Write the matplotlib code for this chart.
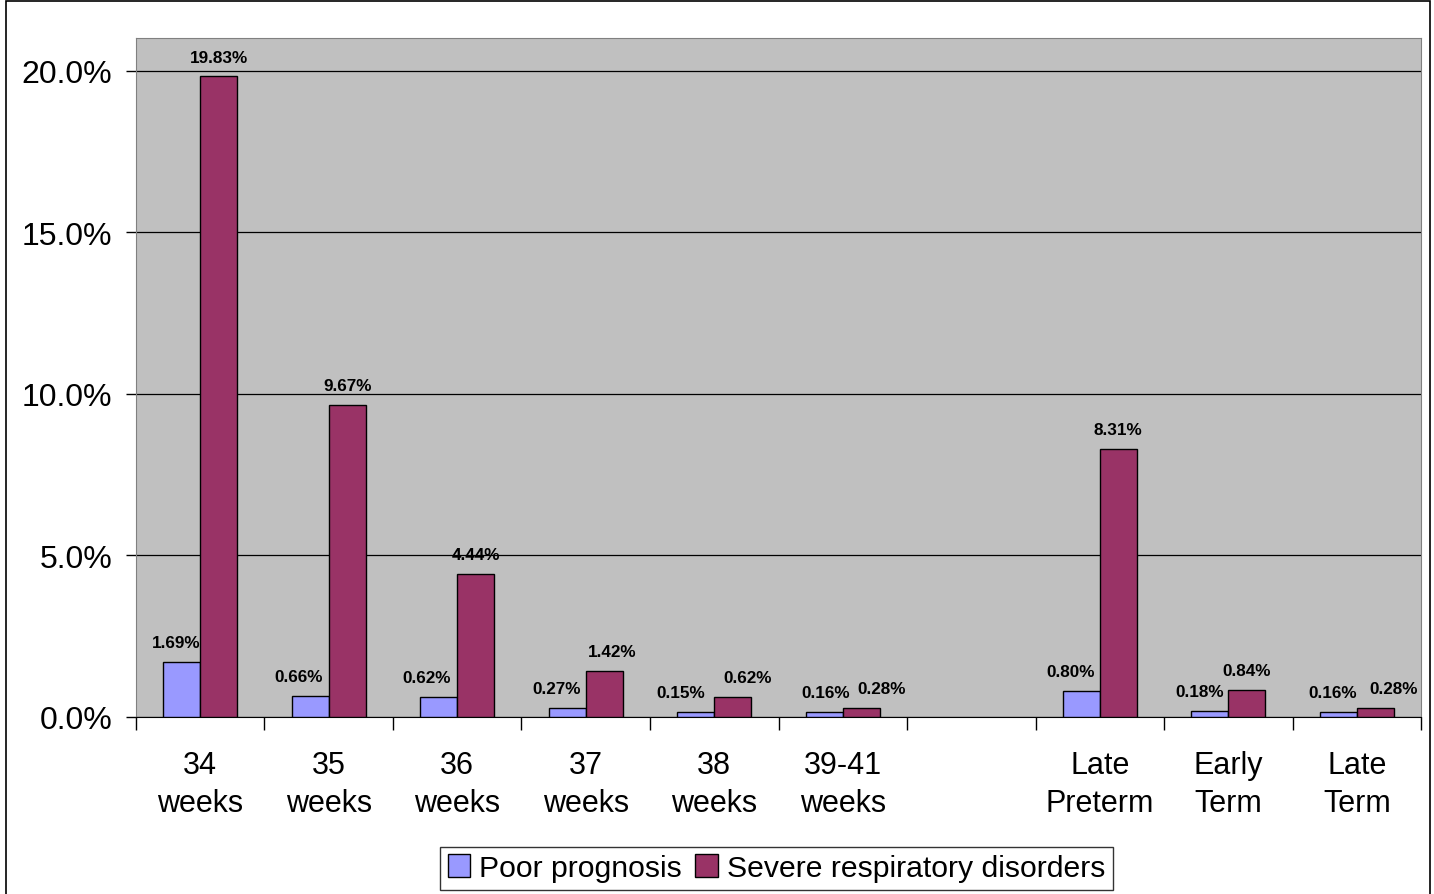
import numpy as np
import matplotlib
matplotlib.use("Agg")
import matplotlib.pyplot as plt
from matplotlib.patches import Rectangle
from matplotlib.ticker import FuncFormatter

# data (percent); the empty category is the gap between weeks and groups
categories = ["34\nweeks", "35\nweeks", "36\nweeks", "37\nweeks", "38\nweeks",
              "39-41\nweeks", "", "Late\nPreterm", "Early\nTerm", "Late\nTerm"]
poor_prognosis = [1.69, 0.66, 0.62, 0.27, 0.15, 0.16, np.nan, 0.80, 0.18, 0.16]
severe_resp = [19.83, 9.67, 4.44, 1.42, 0.62, 0.28, np.nan, 8.31, 0.84, 0.28]
series_names = ["Poor prognosis", "Severe respiratory disorders"]

# label nudges (points) so the small labels don't collide
nudge_blue = [-4, -8, -9, -8, -11, 1, 0, -8, -7, -4]
nudge_red = [0, 0, 0, 6, 11, 15, 0, 0, 0, 13]

plt.rcParams['font.family'] = ['Liberation Sans', 'DejaVu Sans']

fig = plt.figure(figsize=(14.34, 8.95), dpi=100)
ax = fig.add_axes([0.0948, 0.1978, 0.8962, 0.7586])

x = np.arange(len(categories))
w = 0.288
b1 = ax.bar(x - w / 2, poor_prognosis, w, color="#9999FF", edgecolor="black",
            linewidth=1, label=series_names[0], zorder=3)
b2 = ax.bar(x + w / 2, severe_resp, w, color="#993366", edgecolor="black",
            linewidth=1, label=series_names[1], zorder=3)

for i in range(len(categories)):
    if np.isnan(poor_prognosis[i]):
        continue
    ax.annotate("%.2f%%" % poor_prognosis[i], (x[i] - w / 2, poor_prognosis[i]),
                xytext=(nudge_blue[i], 14), textcoords="offset points",
                ha="center", va="center", fontsize=12.3, fontweight="bold", zorder=4)
    ax.annotate("%.2f%%" % severe_resp[i], (x[i] + w / 2, severe_resp[i]),
                xytext=(nudge_red[i], 14), textcoords="offset points",
                ha="center", va="center", fontsize=12.3, fontweight="bold", zorder=4)

ax.set_facecolor("#C0C0C0")
ax.set_xlim(-0.5, len(categories) - 0.5)
ax.set_ylim(0, 21.02)
ax.set_yticks([0, 5, 10, 15, 20])
ax.yaxis.set_major_formatter(FuncFormatter(lambda v, p: "%.1f%%" % v))
ax.grid(axis="y", color="black", linewidth=0.9, zorder=1)

ax.set_xticks(x)
ax.set_xticklabels(categories, fontsize=22, linespacing=1.38)
ax.set_xticks(np.arange(len(categories) + 1) - 0.5, minor=True)
ax.tick_params(axis="x", which="major", length=0, pad=23.5)
ax.tick_params(axis="x", which="minor", length=9, width=1, direction="out")
ax.tick_params(axis="y", labelsize=23, length=7, width=1, pad=10)

for s in ["left", "top", "right"]:
    ax.spines[s].set_color("#808080")
ax.spines["bottom"].set_color("black")

leg = fig.legend(handles=[b1, b2], loc="center", bbox_to_anchor=(0.5415, 0.029),
                 ncol=2, fontsize=21.7, frameon=True, fancybox=False,
                 handlelength=0.75, handleheight=0.75, handletextpad=0.3,
                 columnspacing=0.45, borderpad=0.25, borderaxespad=0)
leg.get_frame().set_edgecolor("black")
leg.get_frame().set_linewidth(1)

# outer chart border
fig.patches.append(Rectangle((0.004, -0.01), 0.993, 1.008, transform=fig.transFigure,
                             fill=False, edgecolor="black", linewidth=1.2))

fig.savefig("out.png", dpi=100)
